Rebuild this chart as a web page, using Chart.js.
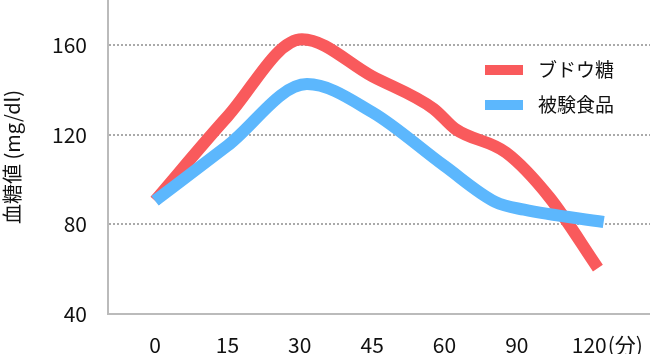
<!DOCTYPE html>
<html>
<head>
<meta charset="utf-8">
<script src="https://cdn.jsdelivr.net/npm/chart.js@4"></script>
<style>
  body { margin: 0; background: #fff; }
  canvas { display: block; }
</style>
</head>
<body>
<canvas id="glucoseChart" width="650" height="354"></canvas>
<script>
// tick labels (minutes) - placed at equal steps on the axis
const minuteLabels = ['0', '15', '30', '45', '60', '90', '120'];
const yTicks = [40, 80, 120, 160];

// series, x is position on the label axis (0 = "0", 6 = "120")
const glucoseX = [0, 1, 2.03, 3, 3.85, 4.15, 4.85, 5.45, 6.12];
const glucoseY = [90.5, 128, 162.5, 146, 131.5, 122.5, 112, 92, 60.5];
const testFoodX = [0, 1, 2.1, 3, 4, 4.7, 5.1, 6.2];
const testFoodY = [90.5, 115, 142.5, 130, 106, 90, 86.5, 81];

const seriesNames = ['ブドウ糖', '被験食品'];
const red = '#f95a5c';
const blue = '#5cb7fd';
const font = "'Noto Sans CJK JP', 'Noto Sans', sans-serif";

const toPoints = (xs, ys) => xs.map((x, i) => ({ x: x, y: ys[i] }));

const legendBox = {
  id: 'legendBox',
  afterDraw(chart) {
    const c = chart.ctx;
    c.save();
    c.font = '19px ' + font;
    c.textBaseline = 'middle';
    c.textAlign = 'left';
    chart.data.datasets.forEach((ds, i) => {
      const y = 70 + i * 35;
      c.fillStyle = ds.borderColor;
      c.fillRect(485, y - 5, 38, 10);
      c.fillStyle = '#111';
      c.fillText(ds.label, 538, y);
    });
    c.restore();
  }
};

const unitLabel = {
  id: 'unitLabel',
  afterDraw(chart) {
    const c = chart.ctx;
    const xs = chart.scales.x;
    const last = minuteLabels.length - 1;
    c.save();
    c.font = '21px ' + font;
    c.textBaseline = 'middle';
    c.textAlign = 'left';
    c.fillStyle = '#111';
    const w = c.measureText(minuteLabels[last]).width;
    c.fillText('(分)', xs.getPixelForValue(last) + w / 2 + 1, 345);
    c.restore();
  }
};

new Chart(document.getElementById('glucoseChart'), {
  type: 'line',
  data: {
    datasets: [{
      label: seriesNames[0],
      data: toPoints(glucoseX, glucoseY),
      borderColor: red,
      borderWidth: 12,
      pointRadius: 0,
      cubicInterpolationMode: 'monotone',
      order: 1
    },
    {
      label: seriesNames[1],
      data: toPoints(testFoodX, testFoodY),
      borderColor: blue,
      borderWidth: 12,
      pointRadius: 0,
      cubicInterpolationMode: 'monotone',
      order: 0
    }]
  },
  options: {
    responsive: false,
    animation: false,
    devicePixelRatio: 1,
    layout: { padding: 0 },
    plugins: {
      legend: { display: false },
      tooltip: { enabled: false }
    },
    scales: {
      x: {
        type: 'linear',
        min: -0.65,
        max: 6.84,
        afterBuildTicks: s => { s.ticks = minuteLabels.map((l, i) => ({ value: i })); },
        afterFit: s => { s.height = 40; s.paddingLeft = 0; s.paddingRight = 0; },
        grid: { display: false, drawTicks: false },
        border: { display: true, color: '#bbbbbb', width: 2 },
        ticks: {
          padding: 18,
          color: '#111',
          maxRotation: 0,
          font: { size: 21, family: font },
          callback: v => minuteLabels[v]
        }
      },
      y: {
        min: 40,
        max: 180,
        afterBuildTicks: s => { s.ticks = yTicks.map(v => ({ value: v })); },
        afterFit: s => { s.width = 108; s.paddingTop = 0; s.paddingBottom = 0; },
        grid: {
          drawTicks: false,
          lineWidth: 2,
          color: ctx => ctx.tick && ctx.tick.value === 40 ? 'rgba(0,0,0,0)' : '#aaaaaa'
        },
        border: { display: true, color: '#bbbbbb', width: 2, dash: [2, 2] },
        ticks: {
          padding: 21,
          color: '#111',
          font: { size: 21, family: font }
        },
        title: {
          display: true,
          text: '血糖値 (mg/dl)',
          color: '#111',
          padding: 0,
          font: { size: 20, family: font }
        }
      }
    }
  },
  plugins: [legendBox, unitLabel]
});
</script>
</body>
</html>
